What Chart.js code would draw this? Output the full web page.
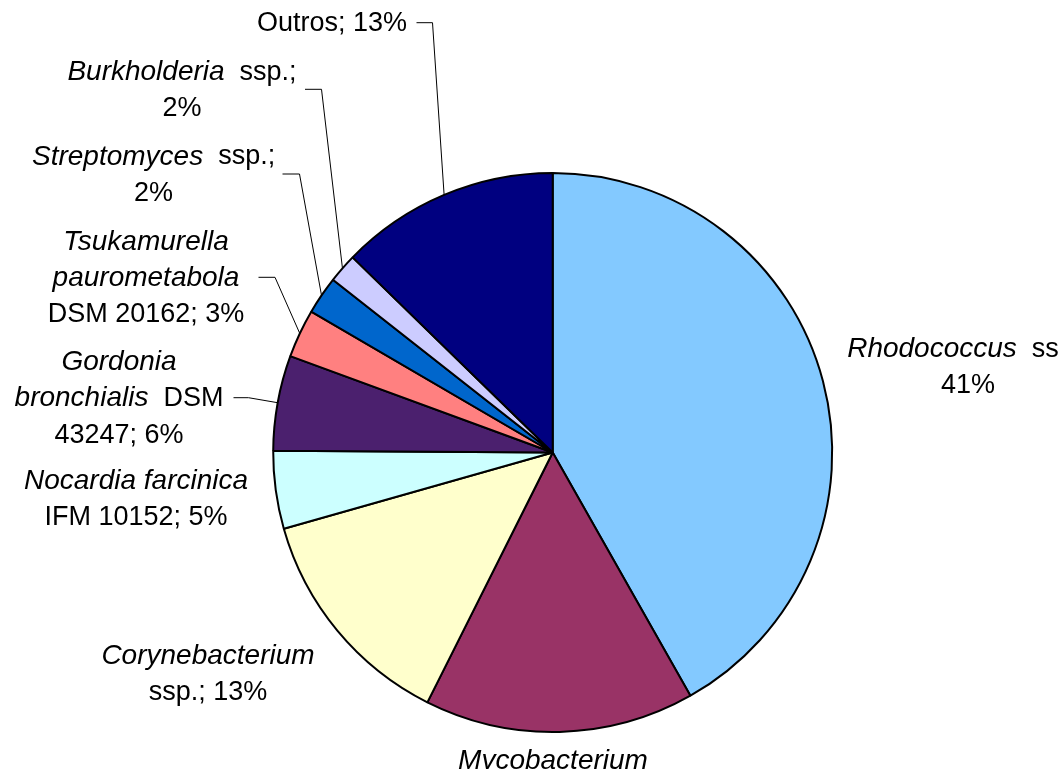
<!DOCTYPE html>
<html>
<head>
<meta charset="utf-8">
<script src="https://cdn.jsdelivr.net/npm/chart.js@4"></script>
<style>
  html, body { margin: 0; padding: 0; background: #ffffff; overflow: hidden; }
  #wrap { position: relative; width: 1060px; height: 769px; }
</style>
</head>
<body>
<div id="wrap"><canvas id="c" width="1060" height="769"></canvas></div>
<script>
// ---- data ----
const categories = [
  "Rhodococcus ssp.",
  "Mycobacterium ssp.",
  "Corynebacterium ssp.",
  "Nocardia farcinica IFM 10152",
  "Gordonia bronchialis DSM 43247",
  "Tsukamurella paurometabola DSM 20162",
  "Streptomyces ssp.",
  "Burkholderia ssp.",
  "Outros"
];
const values = [41.8, 15.6, 13.2, 4.5, 5.5, 2.8, 2.2, 1.7, 12.7];
const percentLabels = ["41%", "15%", "13%", "5%", "6%", "3%", "2%", "2%", "13%"];
const sliceColors = ["#83C9FF", "#993366", "#FFFFCC", "#CCFFFF", "#4B206E", "#FF8080", "#0066CC", "#CCCCFF", "#000080"];

// label text: lines made of runs [text, italic]
const labelLines = [
  [[["Rhodococcus", true], ["  ssp.;", false]], [["41%", false]]],
  [[["Mycobacterium", true]], [["ssp.; 15%", false]]],
  [[["Corynebacterium", true]], [["ssp.; 13%", false]]],
  [[["Nocardia farcinica", true]], [["IFM 10152; 5%", false]]],
  [[["Gordonia", true]], [["bronchialis", true], ["  DSM", false]], [["43247; 6%", false]]],
  [[["Tsukamurella", true]], [["paurometabola", true]], [["DSM 20162; 3%", false]]],
  [[["Streptomyces", true], ["  ssp.;", false]], [["2%", false]]],
  [[["Burkholderia", true], ["  ssp.;", false]], [["2%", false]]],
  [[["Outros; 13%", false]]]
];

// ---- label layout: block centre x, centre y, leader start x, knee x (null = no leader) ----
const labelLayout = [
  { cx: 968, cy: 366.5, lx: null, kx: null },
  { cx: 553, cy: 778,   lx: null, kx: null },
  { cx: 208, cy: 673,   lx: null, kx: null },
  { cx: 136, cy: 498.5, lx: null, kx: null },
  { cx: 119, cy: 397.7, lx: 233.5, kx: 248.5 },
  { cx: 146, cy: 277.3, lx: 258.5, kx: 275 },
  { cx: 153.6, cy: 174, lx: 282.5, kx: 299.5 },
  { cx: 182, cy: 89.3,  lx: 305,   kx: 321.5 },
  { cx: 332, cy: 22.7,  lx: 416.5, kx: 432.5 }
];
const FONT_SIZE = 27;
const ITALIC_SIZE = 28;
const LINE_H = 36.5;
const FAMILY = "'Liberation Sans', Arial, sans-serif";

function runFont(it) {
  return it ? ('italic ' + ITALIC_SIZE + 'px ' + FAMILY) : (FONT_SIZE + 'px ' + FAMILY);
}

const labelPlugin = {
  id: 'pieLabels',
  afterDraw(chart) {
    const ctx = chart.ctx;
    const arcs = chart.getDatasetMeta(0).data;
    ctx.save();
    ctx.fillStyle = '#000';
    ctx.textBaseline = 'middle';
    ctx.textAlign = 'left';
    labelLines.forEach((lines, i) => {
      const L = labelLayout[i];
      const n = lines.length;
      lines.forEach((runs, j) => {
        const y = L.cy + (j - (n - 1) / 2) * LINE_H + 1;
        let total = 0;
        const widths = runs.map(([t, it]) => {
          ctx.font = runFont(it);
          const w = ctx.measureText(t).width;
          total += w;
          return w;
        });
        let x = L.cx - total / 2;
        runs.forEach(([t, it], k) => {
          ctx.font = runFont(it);
          ctx.fillText(t, x, y);
          x += widths[k];
        });
      });
      if (L.lx !== null) {
        const a = arcs[i];
        const mid = (a.startAngle + a.endAngle) / 2;
        const ex = a.x + Math.cos(mid) * a.outerRadius;
        const ey = a.y + Math.sin(mid) * a.outerRadius;
        ctx.beginPath();
        ctx.strokeStyle = '#000';
        ctx.lineWidth = 1;
        ctx.moveTo(L.lx, L.cy);
        ctx.lineTo(L.kx, L.cy);
        ctx.lineTo(ex, ey);
        ctx.stroke();
      }
    });
    ctx.restore();
  }
};

new Chart(document.getElementById('c'), {
  type: 'pie',
  data: {
    labels: categories,
    datasets: [{
      data: values,
      backgroundColor: sliceColors,
      borderColor: '#000000',
      borderWidth: 2
    }]
  },
  options: {
    responsive: false,
    animation: false,
    layout: { padding: { left: 272.2, right: 226.8, top: 172, bottom: 36 } },
    plugins: {
      legend: { display: false },
      tooltip: { enabled: false }
    }
  },
  plugins: [labelPlugin]
});
</script>
</body>
</html>
